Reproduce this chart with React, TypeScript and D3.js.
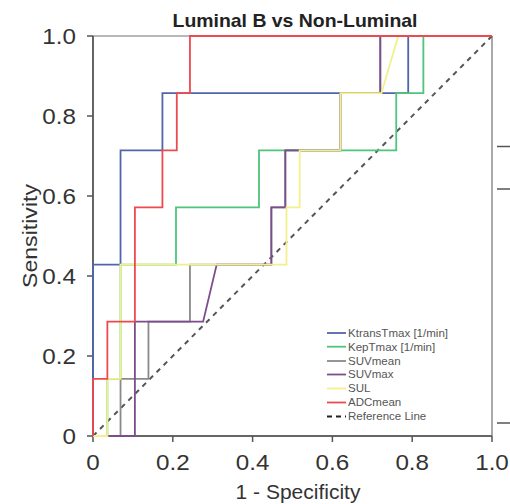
import React from "react";
import * as d3 from "d3";

const title = "Luminal B vs Non-Luminal";
const xTicks = [0, 0.2, 0.4, 0.6, 0.8, 1.0];
const yTicks = [0, 0.2, 0.4, 0.6, 0.8, 1.0];
const xTickLabels = ["0", "0.2", "0.4", "0.6", "0.8", "1.0"];
const yTickLabels = ["0", "0.2", "0.4", "0.6", "0.8", "1.0"];

const s = 1 / 7;
const ktransX = [0, 0, 0.069, 0.069, 0.174, 0.174, 0.79, 0.79, 1];
const ktransY = [0, 3 * s, 3 * s, 5 * s, 5 * s, 6 * s, 6 * s, 1, 1];
const kepX = [0, 0.036, 0.036, 0.069, 0.069, 0.208, 0.208, 0.416, 0.416, 0.76, 0.76, 0.828, 0.828, 1];
const kepY = [0, 0, s, s, 3 * s, 3 * s, 4 * s, 4 * s, 5 * s, 5 * s, 6 * s, 6 * s, 1, 1];
const suvMeanX = [0, 0.069, 0.069, 0.139, 0.139, 0.243, 0.243, 0.447, 0.447, 0.482, 0.482, 0.62, 0.62, 0.72, 0.72, 1];
const suvMeanY = [0, 0, s, s, 2 * s, 2 * s, 3 * s, 3 * s, 4 * s, 4 * s, 5 * s, 5 * s, 6 * s, 6 * s, 1, 1];
const suvMaxX = [0, 0.105, 0.105, 0.276, 0.31, 0.447, 0.447, 0.482, 0.482, 0.62, 0.62, 0.72, 0.72, 1];
const suvMaxY = [0, 0, 2 * s, 2 * s, 3 * s, 3 * s, 4 * s, 4 * s, 5 * s, 5 * s, 6 * s, 6 * s, 1, 1];
const sulX = [0, 0.036, 0.036, 0.069, 0.069, 0.485, 0.485, 0.518, 0.518, 0.62, 0.62, 0.723, 0.765, 1];
const sulY = [0, 0, s, s, 3 * s, 3 * s, 4 * s, 4 * s, 5 * s, 5 * s, 6 * s, 6 * s, 1, 1];
const adcX = [0, 0, 0.036, 0.036, 0.105, 0.105, 0.174, 0.174, 0.21, 0.21, 0.243, 0.243, 1];
const adcY = [0, s, s, 2 * s, 2 * s, 4 * s, 4 * s, 5 * s, 5 * s, 6 * s, 6 * s, 1, 1];

const seriesNames = ["KtransTmax [1/min]", "KepTmax [1/min]", "SUVmean", "SUVmax", "SUL", "ADCmean"];
const seriesColors = ["#5166aa", "#4fc47c", "#8a8a8a", "#7c4d8c", "#f2f08c", "#ec4a4e"];
const seriesXs = [ktransX, kepX, suvMeanX, suvMaxX, sulX, adcX];
const seriesYs = [ktransY, kepY, suvMeanY, suvMaxY, sulY, adcY];

const FONT = "'Liberation Sans', Arial, sans-serif";

function SText(props: {
  x: number; y: number; sx?: number; anchor?: string; size: number; weight?: string;
  fill?: string; dy?: string; rotate?: number; children: React.ReactNode;
}) {
  const { x, y, sx = 1, anchor = "start", size, weight = "normal", fill = "#333", dy, rotate = 0 } = props;
  return (
    <text
      transform={`translate(${x},${y}) rotate(${rotate}) scale(${sx},1)`}
      textAnchor={anchor}
      fontFamily={FONT}
      fontSize={size}
      fontWeight={weight}
      fill={fill}
      dy={dy}
    >
      {props.children}
    </text>
  );
}

export default function App() {
  const W = 510, H = 504;
  const x = d3.scaleLinear().domain([0, 1]).range([93, 492]);
  const y = d3.scaleLinear().domain([0, 1]).range([436, 36]);
  const line = d3.line<[number, number]>().x((d) => x(d[0])).y((d) => y(d[1]));

  const legendRows = [333, 346.7, 361, 374.5, 388.5, 402.5, 416.5];

  return (
    <svg width={W} height={H} style={{ position: "absolute", left: 0, top: 0, background: "#fff" }}>
      <rect x={0} y={0} width={W} height={H} fill="#fff" />
      {/* frame */}
      <line x1={x(0)} x2={x(1)} y1={y(1)} y2={y(1)} stroke="#a0a0a0" strokeWidth={1.5} />
      <line x1={x(1)} x2={x(1)} y1={y(1)} y2={y(0)} stroke="#8c8c8c" strokeWidth={1.5} />
      <line x1={x(0)} x2={x(0)} y1={y(1)} y2={y(0)} stroke="#555" strokeWidth={1.8} />
      <line x1={x(0)} x2={x(1)} y1={y(0)} y2={y(0)} stroke="#666" strokeWidth={1.8} />
      {yTicks.map((t) => (
        <line key={"yt" + t} x1={x(0) - 6} x2={x(0)} y1={y(t)} y2={y(t)} stroke="#555" strokeWidth={1.5} />
      ))}
      {xTicks.map((t) => (
        <line key={"xt" + t} x1={x(t)} x2={x(t)} y1={y(0)} y2={y(0) + 6} stroke="#555" strokeWidth={1.5} />
      ))}
      {yTicks.map((t, i) => (
        <SText key={"yl" + t} x={76} y={y(t)} dy="0.36em" anchor="end" size={22} sx={1.1}>
          {yTickLabels[i]}
        </SText>
      ))}
      {xTicks.map((t, i) => (
        <SText key={"xl" + t} x={x(t)} y={470} anchor="middle" size={22} sx={1.1}>
          {xTickLabels[i]}
        </SText>
      ))}
      <SText x={298} y={499} anchor="middle" size={20} sx={1.05}>1 - Specificity</SText>
      <SText x={37} y={y(0.5)} anchor="middle" size={21} rotate={-90} sx={1.1}>Sensitivity</SText>
      <SText x={295} y={27} anchor="middle" size={18} sx={1.08} weight="bold" fill="#222">{title}</SText>

      {/* reference line */}
      <line x1={x(0)} y1={y(0)} x2={x(1)} y2={y(1)} stroke="#555" strokeWidth={2} strokeDasharray="5,5" />

      {/* curves */}
      {seriesNames.map((n, i) => {
        const pts: [number, number][] = seriesXs[i].map((v, j) => [v, seriesYs[i][j]]);
        return <path key={n} d={line(pts) || ""} fill="none" stroke={seriesColors[i]} strokeWidth={1.8} />;
      })}

      {/* legend */}
      {seriesNames.map((n, i) => (
        <g key={"lg" + n}>
          <line x1={327} x2={346} y1={legendRows[i]} y2={legendRows[i]} stroke={seriesColors[i]} strokeWidth={1.8} />
          <SText x={348} y={legendRows[i]} dy="0.35em" size={11} sx={1.05} fill="#555">{n}</SText>
        </g>
      ))}
      <line x1={327} x2={346} y1={legendRows[6]} y2={legendRows[6]} stroke="#222" strokeWidth={1.8} strokeDasharray="5,4" />
      <SText x={348} y={legendRows[6]} dy="0.35em" size={11} sx={1.05} fill="#555">Reference Line</SText>

      {/* neighbouring chart fragments at right edge */}
      <line x1={497} x2={510} y1={146.5} y2={146.5} stroke="#555" strokeWidth={1.5} />
      <line x1={497} x2={510} y1={189} y2={189} stroke="#555" strokeWidth={1.5} />
      <line x1={497} x2={510} y1={423} y2={423} stroke="#555" strokeWidth={1.5} />
    </svg>
  );
}
